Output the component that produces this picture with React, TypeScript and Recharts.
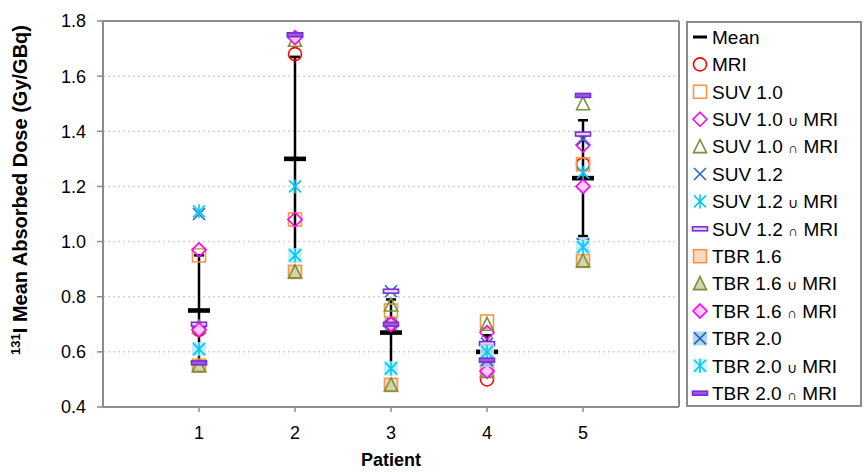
import React from 'react';
import { ScatterChart, Scatter, XAxis, YAxis, CartesianGrid, ErrorBar, ReferenceLine, Label } from 'recharts';

const FONT = '"Liberation Sans", Arial, Helvetica, sans-serif';

const patients = [1, 2, 3, 4, 5];
const yTicks = [0.4, 0.6, 0.8, 1.0, 1.2, 1.4, 1.6, 1.8];

// dose per patient (Gy/GBq)
const meanDose = [0.75, 1.30, 0.67, 0.60, 1.23];
const meanSd = [0.20, 0.37, 0.12, 0.06, 0.21];
const mri = [0.68, 1.68, 0.70, 0.50, 1.28];
const suv10 = [0.95, 1.08, 0.75, 0.71, 1.28];
const suv10Union = [0.97, 1.08, 0.70, 0.67, 1.35];
const suv10Inter = [0.69, 1.73, 0.77, 0.70, 1.50];
const suv12 = [1.10, 0.95, 0.82, 0.63, 1.37];
const suv12Union = [1.11, 1.20, 0.70, 0.60, 1.25];
const suv12Inter = [0.70, 1.75, 0.82, 0.63, 1.39];
const tbr16 = [0.55, 0.89, 0.48, 0.53, 0.93];
const tbr16Union = [0.55, 0.89, 0.48, 0.53, 0.93];
const tbr16Inter = [0.68, 1.74, 0.70, 0.53, 1.20];
const tbr20 = [0.61, 0.95, 0.54, 0.57, 0.99];
const tbr20Union = [0.61, 0.95, 0.54, 0.60, 0.98];
const tbr20Inter = [0.56, 1.75, 0.70, 0.57, 1.53];

type Kind = 'mean' | 'circle' | 'square' | 'diamond' | 'triangle' | 'x' | 'star' | 'dash';

interface SeriesDef {
  name: string;
  values: number[];
  kind: Kind;
  stroke: string;
  fill: string;
}

const series: SeriesDef[] = [
  { name: 'MRI', values: mri, kind: 'circle', stroke: '#ff0000', fill: 'none' },
  { name: 'SUV 1.0', values: suv10, kind: 'square', stroke: '#f79646', fill: 'none' },
  { name: 'SUV 1.0 \u222A MRI', values: suv10Union, kind: 'diamond', stroke: '#ff00ff', fill: 'none' },
  { name: 'SUV 1.0 \u2229 MRI', values: suv10Inter, kind: 'triangle', stroke: '#77933c', fill: 'none' },
  { name: 'SUV 1.2', values: suv12, kind: 'x', stroke: '#1f6cc2', fill: 'none' },
  { name: 'SUV 1.2 \u222A MRI', values: suv12Union, kind: 'star', stroke: '#00c8f5', fill: 'none' },
  { name: 'SUV 1.2 \u2229 MRI', values: suv12Inter, kind: 'dash', stroke: '#7a2fd0', fill: '#e3d2f5' },
  { name: 'TBR 1.6', values: tbr16, kind: 'square', stroke: '#f79646', fill: '#fcd9bd' },
  { name: 'TBR 1.6 \u222A MRI', values: tbr16Union, kind: 'triangle', stroke: '#77933c', fill: '#d8d2a8' },
  { name: 'TBR 1.6 \u2229 MRI', values: tbr16Inter, kind: 'diamond', stroke: '#ff00ff', fill: '#ffccff' },
  { name: 'TBR 2.0', values: tbr20, kind: 'x', stroke: '#1f6cc2', fill: '#a3cdec' },
  { name: 'TBR 2.0 \u222A MRI', values: tbr20Union, kind: 'star', stroke: '#00c8f5', fill: '#c8f4ff' },
  { name: 'TBR 2.0 \u2229 MRI', values: tbr20Inter, kind: 'dash', stroke: '#7a2fd0', fill: '#9a5ae0' },
];

const meanData = patients.map((p, i) => ({ x: p, y: meanDose[i], err: meanSd[i] }));

function marker(kind: Kind, cx: number, cy: number, stroke: string, fill: string, legend = false) {
  const s = 7;
  const sw = 1.6;
  switch (kind) {
    case 'mean':
      return legend
        ? <rect x={cx - 7} y={cy - 1.5} width={14} height={3} fill="#000" />
        : <rect x={cx - 11} y={cy - 2.3} width={22} height={4.6} fill="#000" />;
    case 'circle':
      return <circle cx={cx} cy={cy} r={s - 0.5} fill={fill} stroke={stroke} strokeWidth={sw} />;
    case 'square':
      return <rect x={cx - s + 0.5} y={cy - s + 0.5} width={2 * s - 1} height={2 * s - 1} fill={fill} stroke={stroke} strokeWidth={sw} />;
    case 'diamond':
      return <polygon points={`${cx},${cy - s} ${cx + s},${cy} ${cx},${cy + s} ${cx - s},${cy}`} fill={fill} stroke={stroke} strokeWidth={sw} />;
    case 'triangle':
      return <polygon points={`${cx},${cy - s} ${cx + s - 0.5},${cy + s - 1} ${cx - s + 0.5},${cy + s - 1}`} fill={fill} stroke={stroke} strokeWidth={sw} />;
    case 'x':
    case 'star':
      return (
        <g>
          {fill !== 'none' && <rect x={cx - s} y={cy - s} width={2 * s} height={2 * s} fill={fill} fillOpacity={0.85} />}
          <line x1={cx - s + 1} y1={cy - s + 1} x2={cx + s - 1} y2={cy + s - 1} stroke={stroke} strokeWidth={sw} />
          <line x1={cx - s + 1} y1={cy + s - 1} x2={cx + s - 1} y2={cy - s + 1} stroke={stroke} strokeWidth={sw} />
          {kind === 'star' && <line x1={cx} y1={cy - s} x2={cx} y2={cy + s} stroke={stroke} strokeWidth={sw} />}
        </g>
      );
    case 'dash':
      return <rect x={cx - 7.5} y={cy - 2} width={15} height={4} fill={fill} stroke={stroke} strokeWidth={sw} />;
  }
  return null;
}

const shapeFor = (d: { kind: Kind; stroke: string; fill: string }) => (props: any) => {
  if (props.cx == null || props.cy == null) return null;
  return marker(d.kind, props.cx, props.cy, d.stroke, d.fill);
};

const legendRows = [{ name: 'Mean', kind: 'mean' as Kind, stroke: '#000', fill: '#000' }, ...series];

// set symbols are drawn smaller than the rest of the label, as in the original
const legendLabel = (name: string) =>
  name.split(/([\u222A\u2229])/).map((part, i) =>
    part === '\u222A' || part === '\u2229'
      ? <tspan key={i} fontSize={14}>{part}</tspan>
      : <tspan key={i}>{part}</tspan>
  );

const YTitle = () => (
  <text x={27} y={190} transform="rotate(-90 27 190)" textAnchor="middle" fontFamily={FONT} fontWeight="bold" fontSize={20} fill="#000">
    <tspan fontSize={13} dy={-7}>131</tspan>
    <tspan dy={7}>I  Mean Absorbed Dose (Gy/GBq)</tspan>
  </text>
);

export default function App() {
  return (
    <div style={{ position: 'absolute', left: 0, top: 0, width: 865, height: 472, background: '#fff', fontFamily: FONT }}>
      <ScatterChart width={865} height={472} margin={{ top: 21, right: 186, bottom: 15, left: 0 }}>
        <CartesianGrid horizontal vertical={false} stroke="#d2d2d2" strokeDasharray="2 3" strokeWidth={1.5} />
        <XAxis
          type="number"
          dataKey="x"
          domain={[0, 6]}
          ticks={patients}
          height={50}
          axisLine={{ stroke: '#8c8c8c', strokeWidth: 2 }}
          tickLine={{ stroke: '#8c8c8c', strokeWidth: 1.5 }}
          tickSize={5}
          tickMargin={14}
          tick={{ fill: '#000', fontSize: 18, fontFamily: FONT }}
        >
          <Label value="Patient" position="insideBottom" offset={-9} style={{ fontWeight: 'bold', fontSize: 18, fill: '#000', fontFamily: FONT }} />
        </XAxis>
        <YAxis
          type="number"
          dataKey="y"
          domain={[0.4, 1.8]}
          ticks={yTicks}
          width={103}
          tickFormatter={(v: number) => v.toFixed(1)}
          axisLine={{ stroke: '#8c8c8c', strokeWidth: 2 }}
          tickLine={{ stroke: '#8c8c8c', strokeWidth: 1.5 }}
          tickSize={6}
          tickMargin={11}
          tick={{ fill: '#000', fontSize: 18, fontFamily: FONT }}
          label={<YTitle />}
        />
        <ReferenceLine y={1.8} stroke="#8c8c8c" strokeWidth={2} />
        <ReferenceLine x={6} stroke="#8c8c8c" strokeWidth={2} />
        <Scatter name="Mean" data={meanData} shape={shapeFor({ kind: 'mean', stroke: '#000', fill: '#000' })} isAnimationActive={false}>
          <ErrorBar dataKey="err" direction="y" width={5} stroke="#000" strokeWidth={2.5} />
        </Scatter>
        {series.map((s) => (
          <Scatter
            key={s.name}
            name={s.name}
            data={patients.map((p, i) => ({ x: p, y: s.values[i] }))}
            shape={shapeFor(s)}
            isAnimationActive={false}
          />
        ))}
      </ScatterChart>
      <svg width={176} height={386} style={{ position: 'absolute', left: 686, top: 21, display: 'block' }}>
        <rect x={1} y={1} width={174} height={384} fill="#fff" stroke="#8c8c8c" strokeWidth={2} />
        {legendRows.map((r, i) => {
          const cy = 16 + i * 27.4;
          return (
            <g key={r.name}>
              {marker(r.kind, 14, cy, r.stroke, r.fill, true)}
              <text x={26} y={cy} dy="0.36em" fontSize={19} fontFamily={FONT} fill="#000">{legendLabel(r.name)}</text>
            </g>
          );
        })}
      </svg>
    </div>
  );
}
